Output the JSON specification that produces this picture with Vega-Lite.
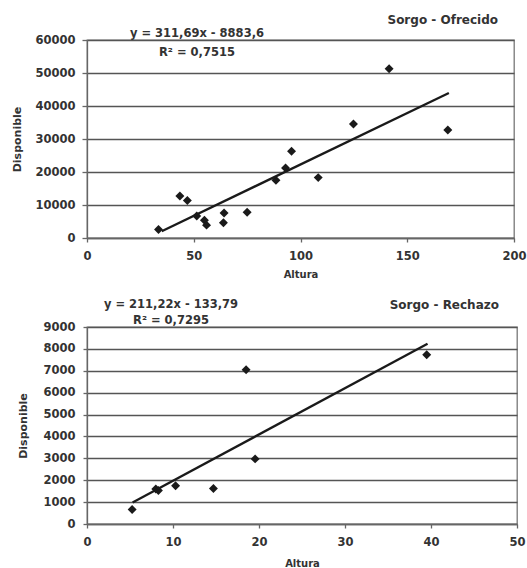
{
  "$schema": "https://vega.github.io/schema/vega-lite/v6.json",
  "background": "white",
  "padding": {"left": 11, "top": 13, "right": 0, "bottom": 0},
  "spacing": 17,
  "config": {
    "font": "DejaVu Sans",
    "view": {"stroke": "#777", "strokeWidth": 1.3},
    "axis": {
      "labelFont": "DejaVu Sans", "labelFontWeight": "bold", "labelFontSize": 11.5, "labelColor": "#333",
      "titleFont": "DejaVu Sans", "titleFontWeight": "bold", "titleColor": "#333",
      "tickColor": "#666", "tickWidth": 1.3, "domainColor": "#666", "domainWidth": 1.3,
      "gridColor": "#555", "gridWidth": 1.3, "gridOpacity": 1, "labelOverlap": false, "labelFlush": false
    },
    "axisX": {"grid": false, "tickSize": 4, "labelPadding": 8, "titlePadding": 8, "titleFontSize": 10},
    "axisY": {"grid": true, "tickSize": 5, "labelPadding": 7, "titlePadding": 12, "titleFontSize": 11},
    "title": {"font": "DejaVu Sans", "fontWeight": "bold", "fontSize": 12, "color": "#333", "anchor": "end", "frame": "group"}
  },
  "datasets": {
    "ofrecido": [
      {"altura": 33.5, "disponible": 2550},
      {"altura": 43.5, "disponible": 12700},
      {"altura": 47.0, "disponible": 11350},
      {"altura": 51.4, "disponible": 6680},
      {"altura": 55.0, "disponible": 5400},
      {"altura": 56.0, "disponible": 3900},
      {"altura": 64.2, "disponible": 7600},
      {"altura": 63.9, "disponible": 4600},
      {"altura": 75.0, "disponible": 7800},
      {"altura": 88.5, "disponible": 17500},
      {"altura": 93.0, "disponible": 21200},
      {"altura": 95.8, "disponible": 26300},
      {"altura": 108.3, "disponible": 18300},
      {"altura": 124.8, "disponible": 34550},
      {"altura": 141.5, "disponible": 51300},
      {"altura": 169.0, "disponible": 32700}
    ],
    "ofrecido_trend": [
      {"altura": 35.0, "disponible": 2026},
      {"altura": 169.5, "disponible": 43947}
    ],
    "rechazo": [
      {"altura": 5.25, "disponible": 660},
      {"altura": 8.0, "disponible": 1600},
      {"altura": 8.3, "disponible": 1530},
      {"altura": 10.3, "disponible": 1750},
      {"altura": 14.7, "disponible": 1620},
      {"altura": 18.5, "disponible": 7045},
      {"altura": 19.55, "disponible": 2975},
      {"altura": 39.5, "disponible": 7730}
    ],
    "rechazo_trend": [
      {"altura": 5.3, "disponible": 986},
      {"altura": 39.6, "disponible": 8230}
    ]
  },
  "vconcat": [
    {
      "width": 427,
      "height": 198,
      "title": {"text": "Sorgo - Ofrecido", "dx": -16, "offset": 1},
      "encoding": {
        "x": {"field": "altura", "type": "quantitative", "title": "Altura",
              "scale": {"domain": [0, 200], "nice": false},
              "axis": {"values": [0, 50, 100, 150, 200]}},
        "y": {"field": "disponible", "type": "quantitative", "title": "Disponible",
              "scale": {"domain": [0, 60000], "nice": false},
              "axis": {"values": [0, 10000, 20000, 30000, 40000, 50000, 60000], "format": "d"}}
      },
      "layer": [
        {
          "data": {"name": "ofrecido"},
          "mark": {"type": "point", "shape": "diamond", "filled": true, "size": 80, "color": "#1a1a1a", "opacity": 1}
        },
        {
          "data": {"name": "ofrecido_trend"},
          "mark": {"type": "line", "color": "#1a1a1a", "strokeWidth": 2.3}
        },
        {
          "data": {"values": [{"label": "y = 311,69x - 8883,6", "altura": 51.5, "disponible": 61800}, {"label": "R² = 0,7515", "altura": 51.5, "disponible": 56200}]},
          "mark": {"type": "text", "font": "DejaVu Sans", "fontWeight": "bold", "fontSize": 11.5, "color": "#333", "baseline": "middle"},
          "encoding": {"text": {"field": "label"}}
        }
      ]
    },
    {
      "width": 430,
      "height": 197,
      "title": {"text": "Sorgo - Rechazo", "dx": -18, "offset": -13},
      "encoding": {
        "x": {"field": "altura", "type": "quantitative", "title": "Altura",
              "scale": {"domain": [0, 50], "nice": false},
              "axis": {"values": [0, 10, 20, 30, 40, 50], "titlePadding": 11}},
        "y": {"field": "disponible", "type": "quantitative", "title": "Disponible",
              "scale": {"domain": [0, 9000], "nice": false},
              "axis": {"values": [0, 1000, 2000, 3000, 4000, 5000, 6000, 7000, 8000, 9000], "format": "d", "labelPadding": 8, "titlePadding": 14, "tickSize": 4}}
      },
      "layer": [
        {
          "data": {"name": "rechazo"},
          "mark": {"type": "point", "shape": "diamond", "filled": true, "size": 80, "color": "#1a1a1a", "opacity": 1}
        },
        {
          "data": {"name": "rechazo_trend"},
          "mark": {"type": "line", "color": "#1a1a1a", "strokeWidth": 2.3}
        },
        {
          "data": {"values": [{"label": "y = 211,22x - 133,79", "altura": 9.77, "disponible": 10005}, {"label": "R² = 0,7295", "altura": 9.77, "disponible": 9274}]},
          "mark": {"type": "text", "font": "DejaVu Sans", "fontWeight": "bold", "fontSize": 11.5, "color": "#333", "baseline": "middle"},
          "encoding": {"text": {"field": "label"}}
        }
      ]
    }
  ]
}
